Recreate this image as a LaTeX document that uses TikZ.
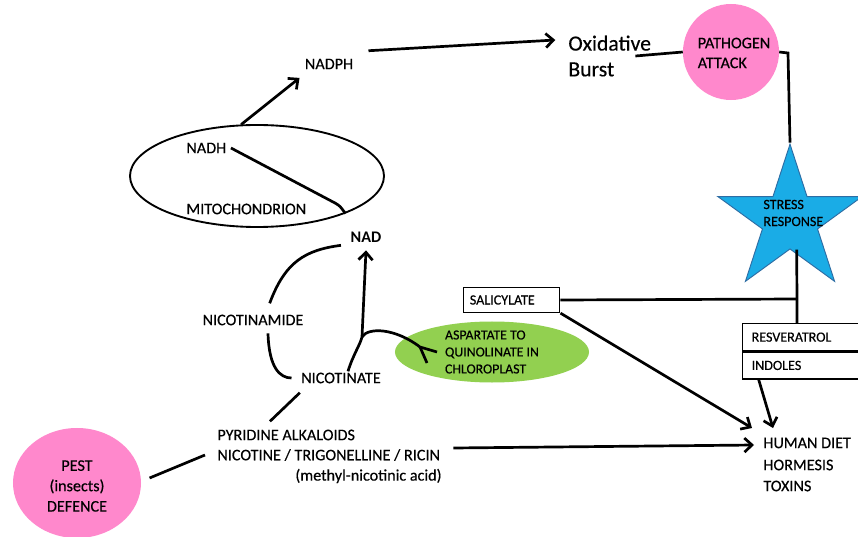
\documentclass[tikz,border=0pt]{standalone}
\usepackage{fontspec}
\setmainfont{Carlito}[UprightFeatures={FakeBold=0.35}]
\usetikzlibrary{shapes.geometric,arrows.meta}
\definecolor{pinkc}{HTML}{FF88CC}
\definecolor{starblue}{HTML}{1AACE6}
\definecolor{starline}{HTML}{2E6DA4}
\definecolor{leaf}{HTML}{92D050}
\begin{document}
\begin{tikzpicture}[x=0.03cm,y=-0.03cm,
  txt/.style={font=\fontsize{13.8}{18}\selectfont, inner sep=1pt},
  sml/.style={font=\fontsize{12}{14.5}\selectfont, inner sep=1pt},
  con/.style={line width=2.3pt},
  arr/.style={con, -{Straight Barb[length=6.5pt,width=12pt]}},
  box/.style={draw, line width=1.1pt, sml, align=left, inner ysep=0pt}]
\clip (0,0) rectangle (858,537);
\fill[white] (0,0) rectangle (858,537);

% shapes
\node[ellipse, draw, line width=1.6pt, minimum width=7.62cm, minimum height=3.06cm, inner sep=0] (mito) at (257,176) {};
\node[circle, fill=pinkc, minimum size=2.88cm, inner sep=0] (path) at (731,52) {};
\node[ellipse, fill=pinkc, minimum width=3.84cm, minimum height=3.3cm, inner sep=0] (pest) at (77,483) {};
\node[ellipse, fill=leaf, minimum width=5.82cm, minimum height=1.83cm, inner sep=0,
      font=\fontsize{11.8}{14.5}\selectfont, align=left] (aspar) at (492,352) {ASPARTATE TO\\QUINOLINATE IN\\CHLOROPLAST};
\node[star, star points=5, star point ratio=2.618, minimum size=4.55cm, inner sep=0,
      fill=starblue, draw=starline, line width=0.8pt] (star) at (790,220) {};

% texts
\node[txt] (nadph) at (329,64) {NADPH};
\node[anchor=west, align=left, inner sep=1pt, font=\fontsize{18.5}{22}\selectfont] (oxid) at (567,56) {Oxidative\\Burst};
\node[txt, align=left, font=\fontsize{13.8}{17}\selectfont] (patht) at (734,53) {PATHOGEN\\ATTACK};
\node[sml, align=left, anchor=west] (stresst) at (762,213) {STRESS\\RESPONSE};
\node[txt, anchor=west] (nadh) at (185,148) {NADH};
\node[txt, anchor=west] (mitot) at (185,209) {MITOCHONDRION};
\node[txt, font=\bfseries\fontsize{13.8}{18}\selectfont] (nad) at (366,237) {NAD};
\node[txt] (nicam) at (253,320) {NICOTINAMIDE};
\node[txt] (nicat) at (341,378) {NICOTINATE};
\node[txt, anchor=west] (pyr1) at (216,435) {PYRIDINE ALKALOIDS};
\node[txt, anchor=west] (pyr2) at (216,455) {NICOTINE / TRIGONELLINE / RICIN};
\node[txt, anchor=east] (pyr3) at (443,476) {(methyl-nicotinic acid)};
\node[txt, align=center, font=\fontsize{13.8}{17.4}\selectfont] (pestt) at (77,486) {PEST\\(insects)\\DEFENCE};
\node[box, text width=2.5cm, inner xsep=0.2cm, minimum height=0.75cm] (sal) at (511.5,300) {SALICYLATE};
\node[box, anchor=north west, text width=3.2cm, inner xsep=0.27cm, minimum height=0.81cm] (resv) at (742,323) {RESVERATROL};
\node[box, anchor=north west, text width=3.2cm, inner xsep=0.27cm, minimum height=0.81cm] (ind) at (resv.south west) {INDOLES};
\node[txt, anchor=west] (hum1) at (762,443) {HUMAN DIET};
\node[txt, anchor=west] (hum2) at (762,465) {HORMESIS};
\node[txt, anchor=west] (hum3) at (762,486) {TOXINS};

% connectors
\draw[arr] ([xshift=0.42cm,yshift=0.2cm]nadph.north east) -- ([xshift=-0.35cm,yshift=0.48cm]oxid.west);
\draw[arr] (mito.107) -- ([xshift=-0.12cm,yshift=-0.22cm]nadph.south west);
\draw[con] ([xshift=0.1cm]nadh.east) -- (335,203) .. controls (340,206) .. (mito.-23);
\draw[con] ([xshift=-0.51cm]oxid.east) -- (path.west);
\draw[con] (path.east) -- (788,53) -- (star.north);
\coordinate (sj) at (797,299);
\draw[con] ([xshift=0.2cm]star.south) -- (sj) -- (sj |- resv.north);
\draw[con] (sal.east) -- (sj);
\draw[con] ([xshift=0.45cm,yshift=-0.2cm]nicam.south) .. controls (269,368) and (280,378) .. ([xshift=-0.25cm]nicat.west);
\draw[con] ([xshift=0.5cm,yshift=0.3cm]nicam.north) .. controls (285,262) and (305,250) .. ([xshift=-0.25cm,yshift=-0.25cm]nad.west);
\coordinate (br) at (362,337);
\draw[arr] ([xshift=0.21cm]nicat.north) .. controls (353,355) and (360,345) .. (br) -- ([yshift=-0.2cm]nad.south);
\coordinate (qj) at (420,347);
\coordinate (qtip) at (437,352);
\coordinate (qbarb) at (427,363);
\draw[con] (br) .. controls (368,327) and (395,328) .. (qj) -- (qtip);
\draw[con] (qj) -- (qbarb);
\draw[con] ([xshift=1.62cm,yshift=0.21cm]pyr1.north west) -- ([yshift=-0.24cm]nicat.south west);
\draw[con] ([xshift=0.25cm,yshift=0.15cm]pest.east) -- ([xshift=-0.33cm]pyr2.west);
\draw[arr] ([xshift=0.36cm,yshift=0.21cm]pyr2.east) -- ([xshift=-0.24cm,yshift=-0.06cm]hum1.west);
\draw[arr] (sal.south east) -- ([xshift=-0.3cm,yshift=0.25cm]hum1.north west);
\draw[arr] ([xshift=0.5cm]ind.south west) -- ([xshift=0.33cm,yshift=0.25cm]hum1.north west);
\end{tikzpicture}
\end{document}
